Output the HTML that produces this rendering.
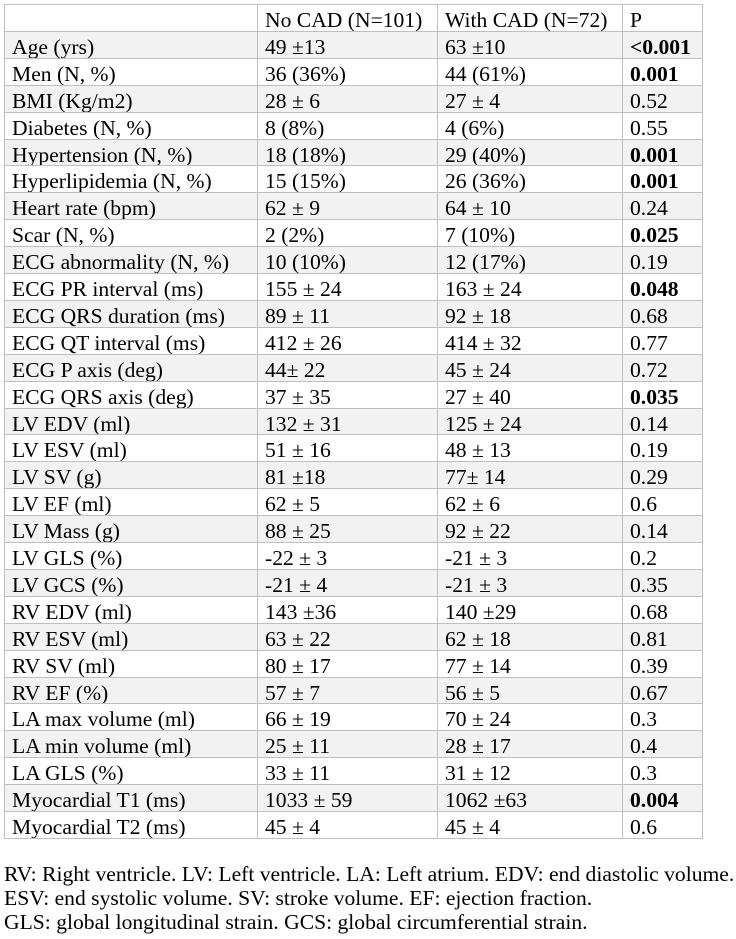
<!DOCTYPE html>
<html><head><meta charset="utf-8"><style>
body{margin:0;width:736px;height:939px;background:#fff;font-family:"Liberation Serif","Times New Roman",Times,serif;font-size:21.6px;color:#000;position:relative;overflow:hidden}
.r{position:absolute;left:4px;width:699px;height:27px}
.r.g{background:#f2f2f2}
.c{position:absolute;top:0;height:27px;line-height:30px;padding-left:7px;box-sizing:border-box;border-left:1px solid #bfbfbf;border-top:1px solid #bfbfbf;white-space:nowrap;overflow:hidden}
.c1{left:0;width:253px}.c2{left:253px;width:180px}.c3{left:433px;width:185px}.c4{left:618px;width:81px;border-right:1px solid #bfbfbf}
b{font-weight:bold}
#tbl{position:absolute;left:0;top:0}
#bot{position:absolute;left:4px;width:699px;top:838px;border-top:1px solid #bfbfbf}
.fn{position:absolute;left:4px;white-space:nowrap;line-height:24px}
</style></head><body>
<div id="tbl"></div>
<div id="bot"></div>
<div class="fn" style="top:862px">RV: Right ventricle. LV: Left ventricle. LA: Left atrium. EDV: end diastolic volume.</div>
<div class="fn" style="top:886px">ESV: end systolic volume. SV: stroke volume. EF: ejection fraction.</div>
<div class="fn" style="top:910px">GLS: global longitudinal strain. GCS: global circumferential strain.</div>
<script>
const labels=["","Age (yrs)","Men (N, %)","BMI (Kg/m2)","Diabetes (N, %)","Hypertension (N, %)","Hyperlipidemia (N, %)","Heart rate (bpm)","Scar (N, %)","ECG abnormality (N, %)","ECG PR interval (ms)","ECG QRS duration (ms)","ECG QT interval (ms)","ECG P axis (deg)","ECG QRS axis (deg)","LV EDV (ml)","LV ESV (ml)","LV SV (g)","LV EF (ml)","LV Mass (g)","LV GLS (%)","LV GCS (%)","RV EDV (ml)","RV ESV (ml)","RV SV (ml)","RV EF (%)","LA max volume (ml)","LA min volume (ml)","LA GLS (%)","Myocardial T1 (ms)","Myocardial T2 (ms)"];
const noCad=["No CAD (N=101)","49 ±13","36 (36%)","28 ± 6","8 (8%)","18 (18%)","15 (15%)","62 ± 9","2 (2%)","10 (10%)","155 ± 24","89 ± 11","412 ± 26","44± 22","37 ± 35","132 ± 31","51 ± 16","81 ±18","62 ± 5","88 ± 25","-22 ± 3","-21 ± 4","143 ±36","63 ± 22","80 ± 17","57 ± 7","66 ± 19","25 ± 11","33 ± 11","1033 ± 59","45 ± 4"];
const withCad=["With CAD (N=72)","63 ±10","44 (61%)","27 ± 4","4 (6%)","29 (40%)","26 (36%)","64 ± 10","7 (10%)","12 (17%)","163 ± 24","92 ± 18","414 ± 32","45 ± 24","27 ± 40","125 ± 24","48 ± 13","77± 14","62 ± 6","92 ± 22","-21 ± 3","-21 ± 3","140 ±29","62 ± 18","77 ± 14","56 ± 5","70 ± 24","28 ± 17","31 ± 12","1062 ±63","45 ± 4"];
const pvals=["P","<0.001","0.001","0.52","0.55","0.001","0.001","0.24","0.025","0.19","0.048","0.68","0.77","0.72","0.035","0.14","0.19","0.29","0.6","0.14","0.2","0.35","0.68","0.81","0.39","0.67","0.3","0.4","0.3","0.004","0.6"];
const bold=[1,2,5,6,8,10,14,29];
const tbl=document.getElementById('tbl');
const rowH=834/31;
labels.forEach((l,i)=>{
  const r=document.createElement('div');
  
  
  r.className='r'+(i%2===1?' g':'');
  r.style.top=(4+i*rowH)+'px';
  [l,noCad[i],withCad[i],pvals[i]].forEach((t,j)=>{
    const c=document.createElement('div');
    
    
    c.className='c c'+(j+1);
    if(j===3&&bold.includes(i)){const b=document.createElement('b');b.textContent=t;c.appendChild(b);}
    else c.textContent=t;
    r.appendChild(c);
  });
  tbl.appendChild(r);
});
</script>
</body></html>
